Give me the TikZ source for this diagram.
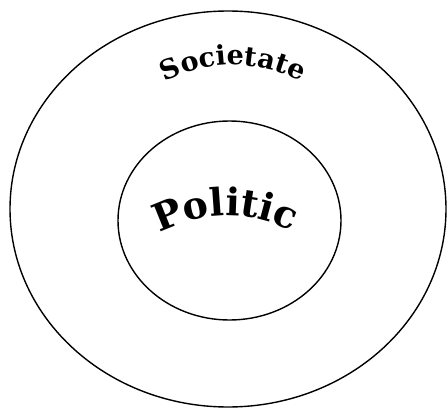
\documentclass[tikz,border=0pt]{standalone}
\usepackage{fontspec}
\usetikzlibrary{decorations.text, shapes.geometric}
\newfontfamily\ringFont{DejaVu Serif}
\newcommand{\societateFont}{\ringFont\bfseries\fontsize{27}{27}\selectfont}
\newcommand{\politicFont}{\ringFont\bfseries\fontsize{38}{38}\selectfont}

\begin{document}
\begin{tikzpicture}[
    x=1pt, y=1pt,
    ring/.style={ellipse, draw=black, line width=1.4pt, inner sep=0pt},
    arcText/.style={decorate, decoration={text along path, text align=center, text={#1}}},
  ]
    \useasboundingbox (0,0) rectangle (447,408);

    \node[ring, minimum width=436, minimum height=396] (societate) at (228,199) {};
    \node[ring, minimum width=223, minimum height=199] (politic) at (229.5,187.5) {};

    \path[arcText={|\societateFont|Societate}] (156,322) to[bend left=28] (310,322);
    \path[arcText={|\politicFont|Politic}] (146,168) to[bend left=30] (306,170);
  \end{tikzpicture}
\end{document}
